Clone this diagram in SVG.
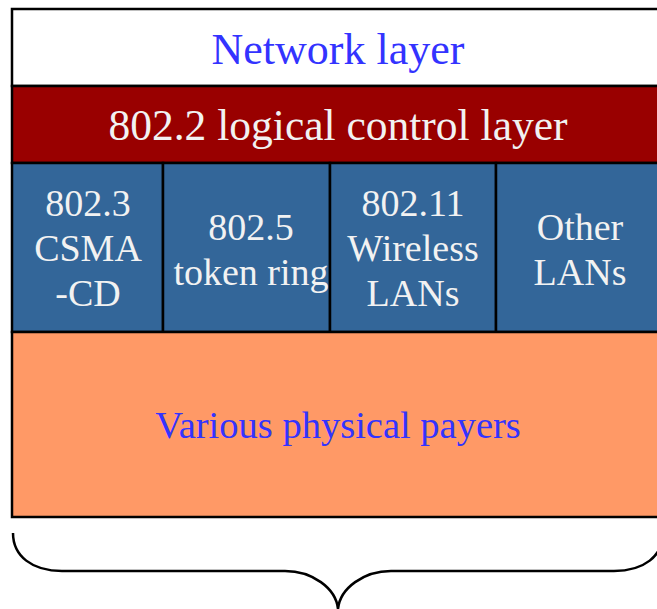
<svg xmlns="http://www.w3.org/2000/svg" width="657" height="609" viewBox="0 0 657 609">
<style>
.box{stroke:#000;stroke-width:2.5}
.t{font-family:"Liberation Serif","Times New Roman",serif;text-anchor:middle}
.w{fill:#f2f2f2;font-size:38px}
.b{fill:#3333ff}
</style>
<rect width="657" height="609" fill="#fff"/>
<g id="network-layer">
<rect class="box" x="12" y="9" width="652" height="77" fill="#fff"/>
<text class="t b" x="338" y="64" font-size="44">Network layer</text>
</g>
<g id="llc-layer">
<rect class="box" x="12" y="86" width="652" height="77" fill="#990000"/>
<text class="t" x="338" y="140" font-size="43.5" fill="#f2f2f2">802.2 logical control layer</text>
</g>
<g id="csma-cd">
<rect class="box" x="12" y="163" width="151" height="169" fill="#336699"/>
<text class="t w" x="88" y="216">802.3</text>
<text class="t w" x="88" y="261">CSMA</text>
<text class="t w" x="88" y="306">-CD</text>
</g>
<g id="token-ring">
<rect class="box" x="163" y="163" width="167" height="169" fill="#336699"/>
<text class="t w" x="251" y="240">802.5</text>
<text class="t w" x="251" y="285">token ring</text>
</g>
<g id="wireless">
<rect class="box" x="330" y="163" width="166" height="169" fill="#336699"/>
<text class="t w" x="413" y="216">802.11</text>
<text class="t w" x="413" y="261">Wireless</text>
<text class="t w" x="413" y="306">LANs</text>
</g>
<g id="other-lans">
<rect class="box" x="496" y="163" width="168" height="169" fill="#336699"/>
<text class="t w" x="580" y="240">Other</text>
<text class="t w" x="580" y="285">LANs</text>
</g>
<g id="physical">
<rect class="box" x="12" y="332" width="652" height="185" fill="#ff9966"/>
<text class="t b" x="338" y="438" font-size="38.5">Various physical payers</text>
</g>
<g id="connectors">
<path d="M13 533 C13 556 32 571 62 571 L285 571 C312 571 336 588 338 609 C340 588 364 571 391 571 L614 571 C644 571 663 556 663 533" fill="none" stroke="#000" stroke-width="2.5"/>
</g>
</svg>
